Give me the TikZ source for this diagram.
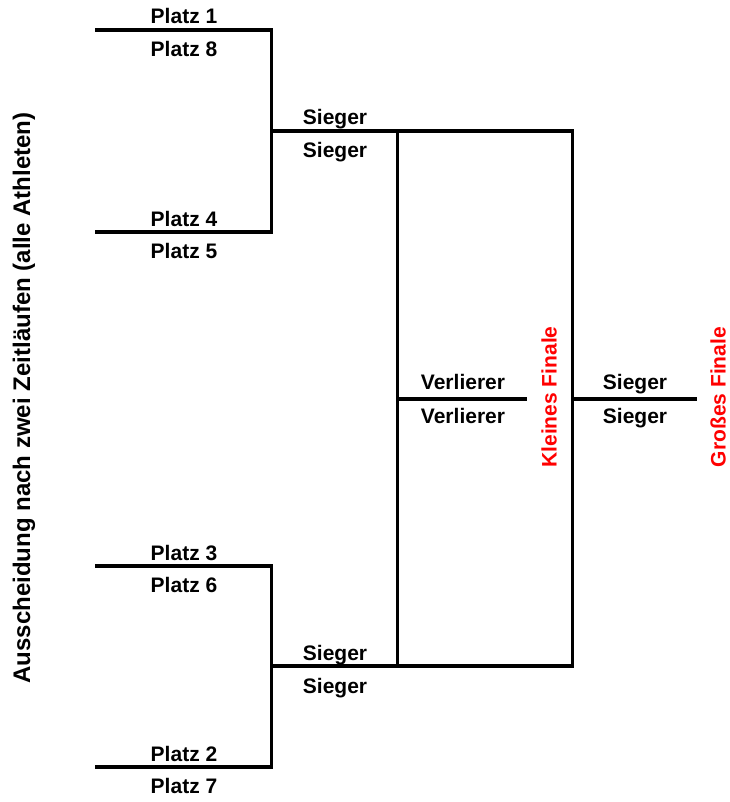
\documentclass[tikz,border=0pt]{standalone}
\usepackage{fontspec}
\setmainfont{Liberation Sans}
\usepackage{tikz}
\usetikzlibrary{positioning}

\begin{document}
\begin{tikzpicture}[x=1pt,y=-1pt,
    hline/.style={line width=4.5pt},
    vline/.style={line width=3pt},
    lbl/.style={font=\fontsize{21}{25}\selectfont\bfseries,inner sep=0pt,anchor=base},
    final/.style={lbl,text=red,rotate=90}]
  \useasboundingbox (0,0) rectangle (729,802);
  % bracket corners
  \coordinate (p1) at (95,30);   \coordinate (q1) at (273,30);
  \coordinate (p4) at (95,232);  \coordinate (q4) at (273,232);
  \coordinate (p3) at (95,566);  \coordinate (q3) at (273,566);
  \coordinate (p2) at (95,767);  \coordinate (q2) at (273,767);
  \coordinate (ta) at (271.5,131); \coordinate (tb) at (573.5,131);
  \coordinate (ba) at (271.5,666); \coordinate (bb) at (573.5,666);
  \coordinate (lt) at (397.5,131); \coordinate (lb) at (397.5,666);
  \coordinate (rt) at (572,131);   \coordinate (rb) at (572,666);
  \coordinate (la) at (396,399);   \coordinate (lz) at (527,399);
  \coordinate (ra) at (572,399);   \coordinate (rz) at (697,399);
  % first round
  \draw[hline] (p1) -- (q1);
  \draw[hline] (p4) -- (q4);
  \draw[vline] (q1 -| ta) -- (q4 -| ta);
  \draw[hline] (p3) -- (q3);
  \draw[hline] (p2) -- (q2);
  \draw[vline] (q3 -| ba) -- (q2 -| ba);
  % semifinals
  \draw[hline] (ta) -- (tb);
  \draw[hline] (ba) -- (bb);
  \draw[vline] (lt) -- (lb);
  \draw[vline] (rt) -- (rb);
  % finals
  \draw[hline] (la) -- (lz);
  \draw[hline] (ra) -- (rz);
  % labels
  \node[lbl] (l1) at (184,24) {Platz 1};
  \node[lbl] (l8) at (184,56.5) {Platz 8};
  \node[lbl] (l4) at (184,226) {Platz 4};
  \node[lbl] (l5) at (184,258.5) {Platz 5};
  \node[lbl] (l3) at (184,560) {Platz 3};
  \node[lbl] (l6) at (184,592.5) {Platz 6};
  \node[lbl] (l2) at (184,761) {Platz 2};
  \node[lbl] (l7) at (184,793.5) {Platz 7};
  \node[lbl] (s1) at (335,125) {Sieger};
  \node[lbl] (s2) at (335,158) {Sieger};
  \node[lbl] (s3) at (335,660) {Sieger};
  \node[lbl] (s4) at (335,693) {Sieger};
  \node[lbl] (v1) at (463,389.5) {Verlierer};
  \node[lbl] (v2) at (463,423.5) {Verlierer};
  \node[lbl] (f1) at (635,389.5) {Sieger};
  \node[lbl] (f2) at (635,423.5) {Sieger};
  \node[final] (kf) at (556.5,397) {Kleines Finale};
  \node[final] (gf) at (725.5,397) {Großes Finale};
  \node[lbl,rotate=90,font=\fontsize{24}{28}\selectfont\bfseries] (title) at (30,398) {Ausscheidung nach zwei Zeitläufen (alle Athleten)};
\end{tikzpicture}
\end{document}
